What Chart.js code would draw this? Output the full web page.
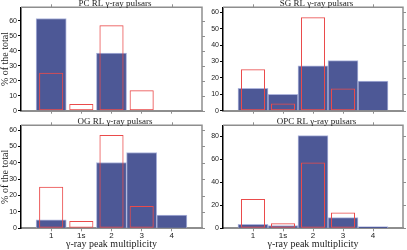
<!DOCTYPE html>
<html lang="en">
<head>
  <meta charset="UTF-8" />
  <title>Gamma-ray peak multiplicity</title>
  <script src="https://cdn.jsdelivr.net/npm/chart.js"></script>
  <style>
    body { margin: 0; background: #fff; }
    .wrap { position: absolute; }
    #w1 { left: 0; top: 0; width: 207px; height: 118px; }
    #w2 { left: 207px; top: 0; width: 200px; height: 118px; }
    #w3 { left: 0; top: 118px; width: 207px; height: 132px; }
    #w4 { left: 207px; top: 118px; width: 200px; height: 132px; }
  </style>
</head>
<body>
  <div class="wrap" id="w1"><canvas id="c1"></canvas></div>
  <div class="wrap" id="w2"><canvas id="c2"></canvas></div>
  <div class="wrap" id="w3"><canvas id="c3"></canvas></div>
  <div class="wrap" id="w4"><canvas id="c4"></canvas></div>

  <script>
    // peak multiplicity classes
    const categories = ['1', '1s', '2', '3', '4'];
    // observed RL gamma-ray pulsars (red outline, same in every panel)
    const observed = [25.3, 4.4, 57, 13.6, 0];
    // model distributions (blue bars)
    const pcModel = [61.5, 0, 38.5, 0, 0];
    const sgModel = [13.7, 10, 27.4, 30.5, 18.1];
    const ogModel = [5.1, 0, 40.2, 46.3, 8.1];
    const opcModel = [3.5, 2.3, 80.3, 9.2, 1.4];

    const titles = ['PC RL γ-ray pulsars', 'SG RL γ-ray pulsars', 'OG RL γ-ray pulsars', 'OPC RL γ-ray pulsars'];
    const yMax = [69, 63, 62.9, 89.3];
    const yStep = [10, 10, 10, 20];

    const blue = '#4d5896';
    const blueEdge = '#aeb5dc';
    const red = '#ea4b4b';
    const frameGrey = '#8e8e8e';

    // draws top/right box lines, mirror ticks and the panel title
    const framePlugin = {
      id: 'frame',
      afterDraw(chart, args, opts) {
        const { ctx, chartArea: a, scales: { x, y } } = chart;
        ctx.save();
        ctx.strokeStyle = frameGrey;
        ctx.lineWidth = 1.5;
        ctx.beginPath();
        ctx.moveTo(a.left, a.top);
        ctx.lineTo(a.right, a.top);
        ctx.lineTo(a.right, a.bottom);
        ctx.stroke();

        ctx.lineWidth = 1;
        ctx.beginPath();
        y.ticks.forEach(t => {
          const py = Math.round(y.getPixelForValue(t.value)) + 0.5;
          ctx.moveTo(a.right, py);
          ctx.lineTo(a.right + 3, py);
        });
        [1, 5].forEach(v => {
          const px = Math.round(x.getPixelForValue(v)) + 0.5;
          ctx.moveTo(px, a.top);
          ctx.lineTo(px, a.top - 3);
        });
        ctx.stroke();

        ctx.fillStyle = '#222';
        ctx.font = '9px "Liberation Serif"';
        ctx.textAlign = 'center';
        ctx.textBaseline = 'alphabetic';
        ctx.fillText(opts.title, (a.left + a.right) / 2 + 3.5, a.top - 1.3);
        ctx.restore();
      }
    };

    function makeChart(id, idx, model, opt) {
      const ctx = document.getElementById(id).getContext('2d');
      return new Chart(ctx, {
        type: 'bar',
        data: {
          datasets: [
            {
              label: 'observed',
              data: observed.map((v, i) => ({ x: i + 1, y: v })),
              backgroundColor: 'rgba(0,0,0,0)',
              borderColor: red,
              borderWidth: 1,
              borderSkipped: false,
              barPercentage: 0.8,
              categoryPercentage: 1,
              grouped: false,
              order: 1
            },
            {
              label: 'model',
              data: model.map((v, i) => ({ x: i + 1, y: v })),
              backgroundColor: blue,
              borderColor: blueEdge,
              borderWidth: 1,
              borderSkipped: 'start',
              barPercentage: 1,
              categoryPercentage: 1,
              grouped: false,
              order: 2
            }
          ]
        },
        options: {
          responsive: true,
          maintainAspectRatio: false,
          animation: false,
          layout: { padding: { top: opt.padTop, right: opt.padRight, left: 0, bottom: 0 } },
          plugins: {
            legend: { display: false },
            tooltip: { enabled: false },
            frame: { title: titles[idx] }
          },
          scales: {
            x: {
              type: 'linear',
              min: 0,
              max: 6,
              offset: false,
              afterBuildTicks: s => { s.ticks = categories.map((c, i) => ({ value: i + 1 })); },
              afterFit: s => { s.height = opt.xHeight; },
              border: { display: true, color: frameGrey, width: 2 },
              grid: { offset: false, drawOnChartArea: false, drawTicks: true, tickLength: 3, tickColor: frameGrey },
              ticks: {
                display: opt.xLabels,
                padding: 0,
                color: '#222',
                font: { family: 'Liberation Sans', size: 8 },
                callback: v => categories[v - 1]
              },
              title: {
                display: opt.xLabels,
                text: 'γ-ray peak multiplicity',
                color: '#222',
                padding: 0,
                font: { family: 'Liberation Serif', size: 10, lineHeight: 1.2 }
              }
            },
            y: {
              min: 0,
              max: yMax[idx],
              afterBuildTicks: s => {
                const t = [];
                for (let v = 0; v <= yMax[idx]; v += yStep[idx]) t.push({ value: v });
                s.ticks = t;
              },
              afterFit: s => { s.width = opt.yWidth; },
              border: { display: true, color: '#000', width: 1.5 },
              grid: { drawOnChartArea: false, drawTicks: true, tickLength: 3, tickColor: '#000' },
              ticks: {
                stepSize: yStep[idx],
                padding: 1,
                color: '#222',
                font: { family: 'Liberation Sans', size: 7 }
              },
              title: {
                display: opt.yTitle,
                text: '% of the total',
                color: '#222',
                padding: 0,
                font: { family: 'Liberation Serif', size: 10, lineHeight: 1.0 }
              }
            }
          }
        },
        plugins: [framePlugin]
      });
    }

    makeChart('c1', 0, pcModel, { padTop: 7.3, padRight: 5, xHeight: 7.3, yWidth: 21, xLabels: false, yTitle: true });
    makeChart('c2', 1, sgModel, { padTop: 7.3, padRight: 4, xHeight: 7.3, yWidth: 16, xLabels: false, yTitle: false });
    makeChart('c3', 2, ogModel, { padTop: 7.3, padRight: 5, xHeight: 21.7, yWidth: 21, xLabels: true, yTitle: true });
    makeChart('c4', 3, opcModel, { padTop: 7.3, padRight: 4, xHeight: 21.7, yWidth: 16, xLabels: true, yTitle: false });
  </script>
</body>
</html>
